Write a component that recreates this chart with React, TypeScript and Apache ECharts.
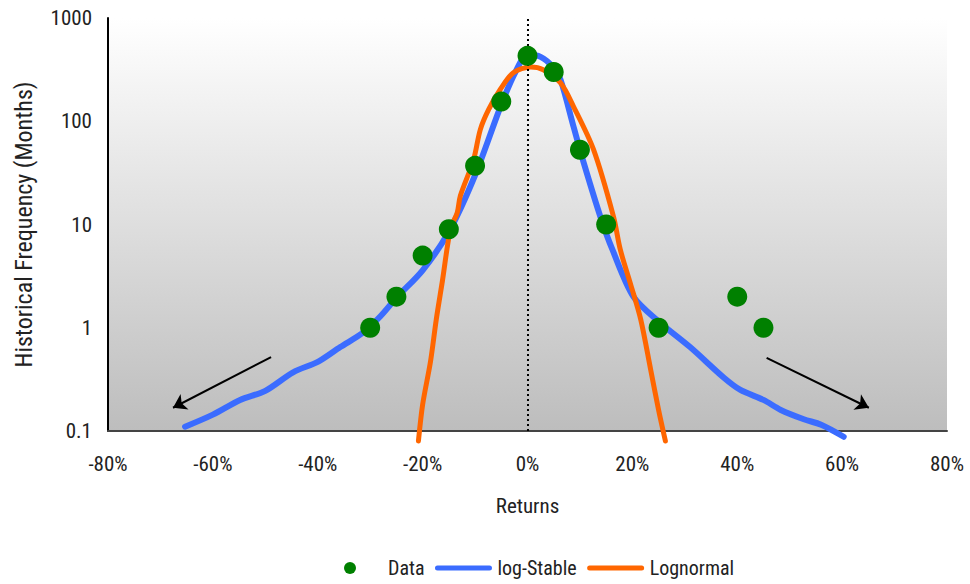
import React, { useEffect, useRef } from "react";
import * as echarts from "echarts";

const xTicks = [-80, -60, -40, -20, 0, 20, 40, 60, 80];
const yTicks = [0.1, 1, 10, 100, 1000];

const dataReturns = [-30, -25, -20, -15, -10, -5, 0, 5, 10, 15, 25, 40, 45];
const dataFreq = [1, 2, 5, 9, 37, 155, 430, 300, 53, 10, 1, 2, 1];

const stableReturns = [-65.3, -60, -54.8, -50, -44.7, -39.9, -35.7, -31.3, -28, -25, -20, -15, -10, -5, -2.3, 0, 2.5, 5, 6.3, 8.8, 10.7, 13.9, 16.2, 20.2, 25, 31, 37.4, 40.6, 45, 48.3, 52.7, 56, 60.3];
const stableFreq = [0.11, 0.144, 0.2, 0.245, 0.37, 0.47, 0.65, 0.9, 1.3, 1.95, 3.6, 8.5, 30, 145, 300, 440, 420, 330, 253, 88, 40, 11.9, 5.7, 2.0, 1.15, 0.65, 0.33, 0.25, 0.2, 0.16, 0.13, 0.115, 0.088];

const lognormReturns = [-20.8, -20, -18.5, -17.4, -16.2, -14.7, -13.4, -12.8, -10.3, -9, -7.4, -5.2, -2.7, 0.6, 3, 6.3, 8.8, 12.6, 16.4, 17.7, 19.7, 21.6, 23.5, 25, 26.3];
const lognormFreq = [0.08, 0.18, 0.47, 1.2, 2.9, 9, 13, 19, 42, 83, 130, 203, 295, 335, 315, 235, 138, 53, 11.9, 5.7, 2.6, 1.2, 0.39, 0.16, 0.08];

const arrowLeft = [[-48.9, 0.52], [-67.6, 0.168]];
const arrowRight = [[45.6, 0.51], [65.1, 0.168]];

const FONT = "'Liberation Sans Narrow', 'Roboto Condensed', Roboto, sans-serif";
const TEXT = "#222";

const ICON_LINE = "path://M0,0L0,0M58,12L58,12M3,3.5L55,3.5A2.5,2.5 0 0 1 55,8.5L3,8.5A2.5,2.5 0 0 1 3,3.5Z";
const ICON_DOT = "path://M0,0L0,0M58,12L58,12M31,6A6,6 0 1 1 19,6A6,6 0 1 1 31,6Z";

export default function App() {
  const ref = useRef<HTMLDivElement>(null);
  useEffect(() => {
    document.body.style.margin = "0";
    if (!ref.current) return;
    const chart = echarts.init(ref.current, null, { renderer: "svg" });
    const zip = (a: number[], b: number[]) => a.map((v, i) => [v, b[i]]);
    chart.setOption({
      animation: false,
      textStyle: { fontFamily: FONT, color: TEXT },
      grid: {
        left: 108,
        right: 23,
        top: 18,
        bottom: 153,
        show: true,
        borderWidth: 0,
        backgroundColor: new echarts.graphic.LinearGradient(0, 0, 0, 1, [
          { offset: 0, color: "#ffffff" },
          { offset: 1, color: "#bdbdbd" },
        ]),
      },
      legend: {
        left: 320,
        top: 553,
        itemWidth: 58,
        itemHeight: 12,
        itemGap: 10,
        textStyle: { fontFamily: FONT, fontSize: 20, color: TEXT },
        data: [
          { name: "Data", icon: ICON_DOT },
          { name: "log-Stable", icon: ICON_LINE },
          { name: "Lognormal", icon: ICON_LINE },
        ],
      },
      xAxis: {
        type: "value",
        min: xTicks[0],
        max: xTicks[xTicks.length - 1],
        interval: 20,
        name: "Returns",
        nameLocation: "middle",
        nameGap: 64,
        nameTextStyle: { fontFamily: FONT, fontSize: 21, color: TEXT },
        axisLine: { onZero: false, lineStyle: { color: "#444", width: 2 } },
        axisTick: { show: false },
        splitLine: { show: false },
        axisLabel: {
          margin: 22,
          fontFamily: FONT,
          fontSize: 21,
          color: TEXT,
          formatter: (v: number) => `${v}%`,
        },
      },
      yAxis: {
        type: "log",
        logBase: 10,
        min: yTicks[0],
        max: yTicks[yTicks.length - 1],
        name: "Historical Frequency (Months)",
        nameLocation: "middle",
        nameGap: 72,
        nameTextStyle: { fontFamily: FONT, fontSize: 24, color: TEXT },
        axisLine: { show: true, onZero: false, lineStyle: { color: "#000", width: 2 } },
        axisTick: { show: false },
        splitLine: { show: false },
        axisLabel: {
          margin: 16,
          fontFamily: FONT,
          fontSize: 21,
          color: TEXT,
          formatter: (v: number) => {
            const t = yTicks.find((t) => Math.abs(t - v) / t < 1e-6);
            return t !== undefined ? String(t) : "";
          },
        },
      },
      series: [
        {
          name: "log-Stable",
          type: "line",
          data: zip(stableReturns, stableFreq),
          smooth: 0.3,
          symbol: "none",
          showSymbol: false,
          clip: false,
          z: 3,
          itemStyle: { color: "#3b6cff" },
          lineStyle: { color: "#3b6cff", width: 6, cap: "round", join: "round" },
          markLine: {
            silent: true,
            symbol: ["none", "none"],
            label: { show: false },
            lineStyle: { color: "#000", width: 2, type: [2, 3] },
            data: [{ xAxis: 0 }],
          },
        },
        {
          name: "Lognormal",
          type: "line",
          data: zip(lognormReturns, lognormFreq),
          smooth: 0.3,
          symbol: "none",
          showSymbol: false,
          clip: false,
          z: 4,
          itemStyle: { color: "#ff6600" },
          lineStyle: { color: "#ff6600", width: 5, cap: "round", join: "round" },
          markLine: {
            silent: true,
            symbol: ["none", "arrow"],
            symbolSize: 13,
            label: { show: false },
            lineStyle: { color: "#000", width: 2, type: "solid" },
            data: [
              [{ coord: arrowLeft[0] }, { coord: arrowLeft[1] }],
              [{ coord: arrowRight[0] }, { coord: arrowRight[1] }],
            ],
          },
        },
        {
          name: "Data",
          type: "scatter",
          data: zip(dataReturns, dataFreq),
          symbol: "circle",
          symbolSize: 20,
          z: 5,
          itemStyle: { color: "#008000", opacity: 1 },
        },
      ],
    });
    return () => chart.dispose();
  }, []);
  return <div ref={ref} style={{ width: 970, height: 584 }} />;
}
